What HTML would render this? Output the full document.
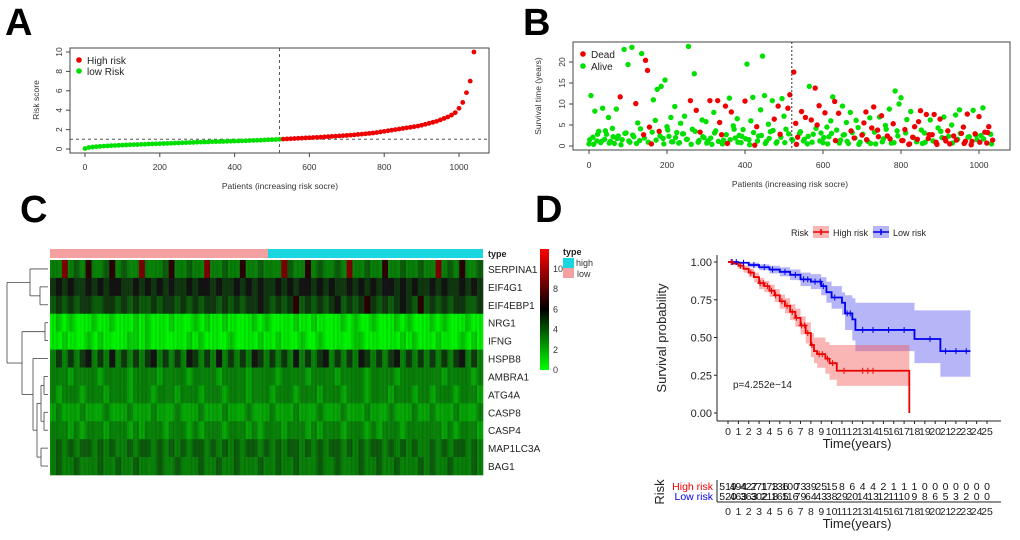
<!DOCTYPE html>
<html><head><meta charset="utf-8">
<style>
html,body{margin:0;padding:0;background:#fff;}
svg{display:block;font-family:"Liberation Sans",Arial,sans-serif;}
</style></head>
<body>
<svg id="fig" width="1020" height="540" viewBox="0 0 1020 540" xmlns="http://www.w3.org/2000/svg">
<rect x="0" y="0" width="1020" height="540" fill="#fff"/>
<text x="5" y="35" font-size="38" font-weight="bold">A</text>
<text x="523" y="35" font-size="38" font-weight="bold">B</text>
<text x="20" y="222" font-size="38" font-weight="bold">C</text>
<text x="535" y="222" font-size="38" font-weight="bold">D</text>
<g id="pa"></g><g id="pb"></g><g id="pc"></g><g id="pd"></g>
</svg>
<script>
// ---------- Panel A data ----------
const riskScores = [0.05,0.15,0.2,0.24,0.27,0.3,0.32,0.34,0.36,0.38,0.4,
0.42,0.43,0.45,0.46,0.48,0.49,0.51,0.52,0.54,0.55,
0.56,0.58,0.59,0.61,0.62,0.64,0.65,0.67,0.68,0.7,
0.71,0.72,0.73,0.75,0.76,0.77,0.78,0.79,0.8,0.82,
0.83,0.84,0.85,0.87,0.88,0.9,0.91,0.93,0.95,0.96,0.98,1.0,
1.02,1.04,1.06,1.08,1.1,1.12,1.14,1.16,
1.18,1.2,1.22,1.25,1.27,1.3,1.32,1.35,1.37,1.4,
1.43,1.46,1.5,1.53,1.57,1.61,1.65,1.7,1.76,1.82,
1.88,1.94,2.0,2.06,2.12,2.18,2.24,2.3,2.36,2.45,
2.55,2.65,2.75,2.85,3.0,3.15,3.3,3.5,3.75,4.2,
4.8,5.8,7.0,10];
const riskStep = 10;
const riskCutoffIndex = 520;
const riskCutoffScore = 1.0;
const aXTicks = [0,200,400,600,800,1000];
const aYTicks = [0,2,4,6,8,10];

// ---------- Panel B data ----------
const survTimes = [0.5,12,2.1,8.3,1.2,3.5,0.8,9,1.6,2.8,
6.8,1.1,4.2,0.6,8.8,2.4,11.7,1.5,23,3.1,
19.4,0.9,23.5,2.2,10.1,5.5,1.3,22,2.7,20.4,
18,4.5,0.5,11,6.1,13.5,3.5,14.2,1.8,15.7,
4.6,2.3,6.8,1.0,9.4,3.2,0.7,5.4,2.9,7.1,
1.6,23.7,10.8,4.0,17.2,8.5,0.9,3.3,6.2,2.0,
5.8,1.2,10.8,0.4,8.0,3.6,10.8,5.6,2.7,1.4,
9.5,0.6,11.4,8.1,4.8,1.9,6.5,2.5,0.8,3.9,
10.7,19.5,1.5,6.0,11.6,0.2,4.6,2.4,8.6,21.4,
12.0,1.1,5.2,3.4,10.8,6.4,0.7,9.5,2.8,11.3,
7.1,4.0,9.0,12.2,1.6,17.6,5.4,2.1,3.0,8.2,
1.2,6.8,0.5,14.2,6.2,2.8,13.8,5.0,9.6,3.1,
0.8,7.9,4.5,2.2,6.0,11.7,10.6,3.8,7.8,1.4,
9.5,2.7,5.6,0.6,8.0,3.2,1.9,6.1,4.4,0.9,
2.6,5.5,8.1,1.1,6.7,4.3,9.3,0.5,3.8,6.9,
7.2,1.7,4.9,2.4,8.8,0.7,5.3,13.1,3.6,10.0,
11.5,1.3,3.9,6.3,0.4,8.2,2.1,4.6,1.0,5.8,
8.4,0.6,3.1,7.5,1.8,6.2,2.7,7.5,0.9,4.3,
6.4,2.0,6.9,1.2,3.6,0.5,5.0,2.4,7.4,1.6,
8.6,3.0,4.5,1.1,7.6,2.2,0.3,8.5,2.9,1.5,
7.0,2.5,9.1,3.3,0.7,4.6,2.8,1.4];
const survStatus = "0000000000"+"0000001000"+"0000100011"+"1110001000"+"0000000000"+"0010010100"+"0010001110"+"1101000000"+"1000011000"+"0000010110"+"0011011101"+"0100101110"+"0100001010"+"0000001000"+"1110011010"+"1001001000"+"0110101101"+"1001101110"+"1001110100"+"0111101010"+"10011101";
const survStep = 5;
const lowTimes = [1.5,0.4,2.8,1.1,3.6,0.7,2.2,1.8,0.3,3.0,
1.2,2.6,0.6,4.1,1.9,0.9,3.3,1.4,2.4,0.5,
3.8,1.0,2.0,0.8,2.9,1.6,0.4,3.5,1.3,2.2,
0.7,1.9,3.1,1.1,0.5,2.7,1.5,4.0,0.9,2.3,
1.7,0.3,3.2,1.2,2.5,0.6,1.8,3.7,1.0,2.1,
0.8,2.9,1.4,0.4,3.4,1.6,2.3,0.9,4.2,1.2,
2.0,0.5,3.0,1.3,0.7,2.6,1.1,3.6,1.9,0.4,
2.8,1.5,0.6,3.3,2.2,1.0,4.0,1.7,0.8,2.4,
1.3,3.1,0.5,2.0,1.6,3.8,0.9,2.7,1.2,0.4,
3.5,1.8,2.3,0.7,1.4,3.0,0.6,2.1,1.1,2.6,
0.9,1.7,3.2,0.5];
const lowStatus = "0000000000"+"0000000000"+"0000000000"+"0000000000"+"0000000000"+"0001000000"+"0001000100"+"0100100100"+"1010100101"+"0100101010"+"1010";
const lowStep = 10, lowOffset = 2;
const bXTicks = [0,200,400,600,800,1000];
const bYTicks = [0,5,10,15,20];

// ---------- Panel C data ----------
const genes = ["SERPINA1","EIF4G1","EIF4EBP1","NRG1","IFNG","HSPB8","AMBRA1","ATG4A","CASP8","CASP4","MAP1LC3A","BAG1"];
const exprRows = [
"3393437334734339333473343393343373343339433734334393343373343343393437334",
"5656556565665565656565565665655656565565656656565565656566565655656556565",
"4545455445545454454554545455454545565454574545456454575454565474545455445",
"0101000100100010100010001010010000101000010010000101001000101000101000100",
"0010001010000110100000010100001000010010001001000001100000010100010001010",
"3535356353635353563535365353635353653535363535635353653535635353535356353",
"3332333323333233332333323333233332333323333233332333323333233333332333323",
"3233323332333233323332333233323332333233323332333233323332333233233323332",
"2322232223222322232223222322232223222322232223222322232223222322322232223",
"3332323332333232333233323233323332323332333232333233323233323333332323332",
"3434344343433434434343434434343434434343443434344343434434343433434344343",
"3433433343343343334334333433433433343343343334334333433433433343433433343"];
const colorbarTicks = [0,2,4,6,8,10];

// ---------- Panel D data ----------
const highT = [0,0.5,1,1.5,2,2.5,3,3.5,4,4.5,5,5.5,6,6.5,7,7.5,8,8.3,8.6,9.4,9.8,10.5,17.5];
const highS = [1,0.99,0.975,0.955,0.93,0.9,0.86,0.84,0.81,0.78,0.74,0.71,0.67,0.63,0.58,0.53,0.45,0.41,0.39,0.36,0.33,0.28,0];
const highUp = [1,1,0.99,0.975,0.955,0.93,0.895,0.875,0.85,0.82,0.785,0.76,0.72,0.69,0.64,0.6,0.53,0.5,0.5,0.47,0.45,0.45,0.45];
const highLo = [1,0.98,0.955,0.93,0.9,0.865,0.82,0.8,0.77,0.735,0.69,0.66,0.615,0.57,0.52,0.46,0.37,0.33,0.3,0.26,0.22,0.18,0.18];
const highEnd = 17.5;
const lowT = [0,1,2,3,4,5,6,7,8,9,9.5,10,11,11.3,12,12.3,18,20.5];
const lowS = [1,0.995,0.98,0.965,0.95,0.935,0.915,0.885,0.87,0.84,0.8,0.765,0.73,0.66,0.62,0.55,0.49,0.41];
const lowUp = [1,1,0.995,0.985,0.975,0.965,0.95,0.93,0.92,0.9,0.87,0.84,0.8,0.78,0.76,0.73,0.68,0.68];
const lowLo = [1,0.99,0.965,0.945,0.925,0.905,0.88,0.84,0.82,0.78,0.73,0.69,0.65,0.55,0.48,0.41,0.33,0.24];
const lowEnd = 23.4;
const highCensor = [0.3,1.2,2.2,3.1,3.4,3.8,4.2,4.6,5.2,5.7,6.2,6.6,7.1,7.4,7.7,8.1,8.8,9.1,9.6,10.1,11.2,13.0,13.5,14.0];
const lowCensor = [0.4,0.8,1.5,2.5,3.5,4.3,5.5,6.5,7.3,7.7,8.4,8.9,9.2,10.3,11.5,11.8,13.0,14.0,15.5,17.0,19.5,21.0,22.0,23.0];
const kmXTicks = [0,1,2,3,4,5,6,7,8,9,10,11,12,13,14,15,16,17,18,19,20,21,22,23,24,25];
const kmYTicks = [0,0.25,0.5,0.75,1.0];
const atRiskHigh = [519,494,427,271,173,136,100,73,39,25,15,8,6,4,4,2,1,1,1,0,0,0,0,0,0,0];
const atRiskLow  = [520,463,363,302,218,165,116,79,64,43,38,29,20,14,13,12,11,10,9,8,6,5,3,2,0,0];

const NS = "http://www.w3.org/2000/svg";
function mk(tag, attrs, parent){const e=document.createElementNS(NS,tag);for(const k in attrs)e.setAttribute(k,attrs[k]);parent.appendChild(e);return e;}
function txt(s, attrs, parent){const e=mk("text",attrs,parent);e.textContent=s;return e;}

// ===== Panel A =====
(function(){
const g=document.getElementById("pa");
const x0=85,x1=459,y0=149,y1=52;
const sx=v=>x0+(x1-x0)*v/1000, sy=v=>y0+(y1-y0)*v/10;
let r=mk("rect",{x:70,y:48,width:419,height:105,fill:"none",stroke:"#444","stroke-width":1},g);


aXTicks.forEach(t=>{
 const l=mk("line",{x1:sx(t),x2:sx(t),y1:153,y2:157,stroke:"#444"},g);
 
 
 const s=txt(String(t),{x:sx(t),y:170,"font-size":8.5,"text-anchor":"middle",fill:"#333"},g);
 
 
});
aYTicks.forEach(t=>{
 const l=mk("line",{x1:66,x2:70,y1:sy(t),y2:sy(t),stroke:"#444"},g);
 
 
 const s=txt(String(t),{x:62,y:sy(t),"font-size":8.5,"text-anchor":"middle",fill:"#333",transform:`rotate(-90 62 ${sy(t)})`},g);
 
 
});
let d=mk("line",{x1:sx(riskCutoffIndex),x2:sx(riskCutoffIndex),y1:48,y2:153,stroke:"#555","stroke-dasharray":"3,3"},g);


d=mk("line",{x1:70,x2:489,y1:sy(riskCutoffScore),y2:sy(riskCutoffScore),stroke:"#555","stroke-dasharray":"3,3"},g);


riskScores.forEach((v,i)=>{
 const idx=i*riskStep; const p=mk("circle",{cx:sx(idx),cy:sy(v),r:2.4,fill:idx<=riskCutoffIndex?"#00e000":"#ee0000"},g);
 
 
});
let c=mk("circle",{cx:79,cy:60,r:2.8,fill:"#ee0000"},g);


let t=txt("High risk",{x:87,y:64,"font-size":10,fill:"#222"},g);


c=mk("circle",{cx:79,cy:71,r:2.8,fill:"#00e000"},g);


t=txt("low Risk",{x:87,y:75,"font-size":10,fill:"#222"},g);


t=txt("Risk score",{x:39,y:100,"font-size":8.5,"text-anchor":"middle",fill:"#333",transform:"rotate(-90 39 100)"},g);


t=txt("Patients (increasing risk socre)",{x:280,y:189,"font-size":8.5,"text-anchor":"middle",fill:"#333"},g);


})();

// ===== Panel B =====
(function(){
const g=document.getElementById("pb");
const sx=v=>589+(979-589)*v/1000, sy=v=>146-(146-62)*v/20;
let r=mk("rect",{x:573,y:42,width:437,height:108,fill:"none",stroke:"#444"},g);


bXTicks.forEach(t=>{
 const l=mk("line",{x1:sx(t),x2:sx(t),y1:150,y2:154,stroke:"#444"},g);
 
 
 const s=txt(String(t),{x:sx(t),y:168,"font-size":8.5,"text-anchor":"middle",fill:"#333"},g);
 
 
});
bYTicks.forEach(t=>{
 const l=mk("line",{x1:569,x2:573,y1:sy(t),y2:sy(t),stroke:"#444"},g);
 
 
 const s=txt(String(t),{x:565,y:sy(t),"font-size":8.5,"text-anchor":"middle",fill:"#333",transform:`rotate(-90 565 ${sy(t)})`},g);
 
 
});
const pts=[];
survTimes.forEach((v,i)=>pts.push([i*survStep,v,survStatus[i]==="1"]));
lowTimes.forEach((v,i)=>pts.push([i*lowStep+lowOffset,v,lowStatus[i]==="1"]));
[false,true].forEach(dead=>{
 pts.filter(p=>p[2]===dead).forEach(p=>{
  const c=mk("circle",{cx:sx(p[0]),cy:sy(p[1]),r:2.7,fill:dead?"#ee0000":"#00e000"},g);
  
  
 });
});
let d=mk("line",{x1:sx(520),x2:sx(520),y1:42,y2:150,stroke:"#333","stroke-dasharray":"2,2"},g);


let c=mk("circle",{cx:583,cy:54,r:2.8,fill:"#ee0000"},g);


let t=txt("Dead",{x:591,y:58,"font-size":10,fill:"#222"},g);


c=mk("circle",{cx:583,cy:66,r:2.8,fill:"#00e000"},g);


t=txt("Alive",{x:591,y:70,"font-size":10,fill:"#222"},g);


t=txt("Survival time (years)",{x:541,y:96,"font-size":8.5,"text-anchor":"middle",fill:"#333",transform:"rotate(-90 541 96)"},g);


t=txt("Patients (increasing risk socre)",{x:790,y:187,"font-size":8.5,"text-anchor":"middle",fill:"#333"},g);


})();

// ===== Panel C =====
function hcol(v,shade){
 if(v<=6){const k=Math.round(245*(1-v/6)*shade);const o=Math.round(18*(v/6));return `rgb(${o},${k+o},${o})`;}
 const k=Math.round(235*Math.min(1,(v-6)/5.5)*shade);return `rgb(${k},0,0)`;
}
(function(){
const g=document.getElementById("pc");
const hx=50,hw=433,top=260,rh=(475-260)/12;
let b=mk("rect",{x:hx,y:249,width:218,height:9,fill:"#f5a0a0"},g);


b=mk("rect",{x:268,y:249,width:hx+hw-268,height:9,fill:"#1ad6df"},g);


let t=txt("type",{x:488,y:257,"font-size":9,"font-weight":"bold",fill:"#222"},g);


const shades=[1,0.88,0.95];
exprRows.forEach((row,ri)=>{
 const n=row.length, cw=hw/n;
 for(let j=0;j<n;j++){
  const v=parseInt(row[j],16);
  for(let s=0;s<3;s++){
   const c=mk("rect",{x:hx+j*cw+s*cw/3,y:top+ri*rh,width:cw/3+0.3,height:rh+0.3,fill:hcol(v,shades[(s+j)%3])},g);
   
   
  }
 }
 const l=txt(genes[ri],{x:488,y:top+ri*rh+rh/2+4,"font-size":10,fill:"#222"},g);
 
 
});
// dendrogram
const cy=i=>top+i*rh+rh/2;
const L=(x1,y1,x2,y2)=>{const e=mk("line",{x1,y1,x2,y2,stroke:"#444","stroke-width":0.8},g);};
function join(xa,ya,xb,yb,xj){L(xa,ya,xj,ya);L(xb,yb,xj,yb);L(xj,ya,xj,yb);return [xj,(ya+yb)/2];}
const R=48;
let e12=join(R,cy(1),R,cy(2),40);
let s3=join(R,cy(0),e12[0],e12[1],30);
let ni=join(R,cy(3),R,cy(4),45);
let aa=join(R,cy(6),R,cy(7),44);
let cc=join(R,cy(8),R,cy(9),44);
let ac=join(aa[0],aa[1],cc[0],cc[1],41);
let mb=join(R,cy(10),R,cy(11),41);
let am=join(ac[0],ac[1],mb[0],mb[1],37);
let hs=join(R,cy(5),am[0],am[1],33);
let low=join(ni[0],ni[1],hs[0],hs[1],22);
join(s3[0],s3[1],low[0],low[1],7);
// colorbar
const defs=mk("defs",{},g);
const lg=mk("linearGradient",{id:"cb",x1:0,y1:1,x2:0,y2:0},defs);
mk("stop",{offset:"0","stop-color":"#00ff00"},lg);
mk("stop",{offset:"0.5","stop-color":"#000"},lg);
mk("stop",{offset:"1","stop-color":"#ff0000"},lg);
const cb=mk("rect",{x:540,y:249,width:9,height:121,fill:"url(#cb)"},g);


colorbarTicks.forEach(v=>{
 const s=txt(String(v),{x:553,y:370-10.1*v+3,"font-size":9,fill:"#333"},g);
 
 
});
t=txt("type",{x:563,y:255,"font-size":9,"font-weight":"bold",fill:"#222"},g);


b=mk("rect",{x:563,y:258,width:11,height:10,fill:"#1ad6df"},g);


t=txt("high",{x:576,y:266,"font-size":9,fill:"#333"},g);


b=mk("rect",{x:563,y:268,width:11,height:10,fill:"#f5a0a0"},g);


t=txt("low",{x:577,y:277,"font-size":9,fill:"#333"},g);


})();

// ===== Panel D =====
(function(){
const g=document.getElementById("pd");
const sx=v=>728+10.36*v, sy=v=>413-151*v;
function stepPath(T,S,end){let d=`M${sx(T[0])},${sy(S[0])}`;for(let i=1;i<T.length;i++){d+=`H${sx(T[i])}V${sy(S[i])}`;}d+=`H${sx(end)}`;return d;}
function band(T,U,Lo,end){let d=`M${sx(T[0])},${sy(U[0])}`;for(let i=1;i<T.length;i++)d+=`H${sx(T[i])}V${sy(U[i])}`;d+=`H${sx(end)}V${sy(Lo[Lo.length-1])}`;for(let i=T.length-1;i>=1;i--)d+=`H${sx(T[i])}V${sy(Lo[i-1])}`;d+=`H${sx(T[0])}Z`;return d;}
let p=mk("path",{d:band(lowT,lowUp,lowLo,lowEnd),fill:"rgba(90,90,240,0.45)"},g);


p=mk("path",{d:band(highT.slice(0,-1),highUp.slice(0,-1),highLo.slice(0,-1),highEnd),fill:"rgba(245,90,90,0.45)"},g);


p=mk("path",{d:stepPath(lowT,lowS,lowEnd),fill:"none",stroke:"#0000ee","stroke-width":1.8},g);


p=mk("path",{d:stepPath(highT,highS,highEnd),fill:"none",stroke:"#ee0000","stroke-width":1.8},g);


function sAt(T,S,t){let s=S[0];for(let i=0;i<T.length;i++)if(T[i]<=t)s=S[i];return s;}
function cens(list,T,S,col){list.forEach(t=>{const x=sx(t),y=sy(sAt(T,S,t));const e=mk("path",{d:`M${x-3},${y}H${x+3}M${x},${y-3}V${y+3}`,stroke:col,"stroke-width":1},g);});}
cens(lowCensor,lowT,lowS,"#0000ee");
cens(highCensor,highT,highS,"#ee0000");
let a=mk("line",{x1:717,x2:717,y1:255,y2:421,stroke:"#222"},g);


a=mk("line",{x1:717,x2:1001,y1:421,y2:421,stroke:"#222"},g);


kmYTicks.forEach(v=>{
 const l=mk("line",{x1:714,x2:717,y1:sy(v),y2:sy(v),stroke:"#222"},g);
 
 
 const s=txt(v.toFixed(2),{x:712,y:sy(v)+4,"font-size":11,"text-anchor":"end",fill:"#222"},g);
 
 
});
kmXTicks.forEach(v=>{
 const l=mk("line",{x1:sx(v),x2:sx(v),y1:421,y2:424,stroke:"#222"},g);
 
 
 const s=txt(String(v),{x:sx(v),y:435,"font-size":10.5,"text-anchor":"middle",fill:"#222"},g);
 
 
});
let t=txt("Time(years)",{x:857,y:448,"font-size":13,"text-anchor":"middle",fill:"#222"},g);


t=txt("Survival probability",{x:666,y:338,"font-size":13,"text-anchor":"middle",fill:"#222",transform:"rotate(-90 666 338)"},g);


t=txt("p=4.252e\u221214",{x:733,y:388,"font-size":10,fill:"#222"},g);


t=txt("Risk",{x:791,y:236,"font-size":9,fill:"#222"},g);


let k=mk("rect",{x:813,y:226,width:16,height:12,fill:"rgba(245,90,90,0.45)"},g);


mk("path",{d:"M813,232H829M821,229V235",stroke:"#ee0000","stroke-width":1.5},g);
t=txt("High risk",{x:833,y:236,"font-size":9,fill:"#222"},g);


k=mk("rect",{x:873,y:226,width:16,height:12,fill:"rgba(90,90,240,0.45)"},g);


mk("path",{d:"M873,232H889M881,229V235",stroke:"#0000ee","stroke-width":1.5},g);
t=txt("Low risk",{x:893,y:236,"font-size":9,fill:"#222"},g);


a=mk("line",{x1:717,x2:717,y1:480,y2:502,stroke:"#222"},g);


a=mk("line",{x1:717,x2:1001,y1:502,y2:502,stroke:"#222"},g);


t=txt("High risk",{x:713,y:490,"font-size":10.5,"text-anchor":"end",fill:"#ee0000"},g);


t=txt("Low risk",{x:713,y:500,"font-size":10.5,"text-anchor":"end",fill:"#0000ee"},g);


t=txt("Risk",{x:664,y:492,"font-size":13,"text-anchor":"middle",fill:"#222",transform:"rotate(-90 664 492)"},g);


kmXTicks.forEach((v,i)=>{
 let s=txt(String(atRiskHigh[i]),{x:sx(v),y:490,"font-size":10.5,"text-anchor":"middle",fill:"#111"},g);
 
 
 s=txt(String(atRiskLow[i]),{x:sx(v),y:500,"font-size":10.5,"text-anchor":"middle",fill:"#111"},g);
 
 
 s=txt(String(v),{x:sx(v),y:515,"font-size":10.5,"text-anchor":"middle",fill:"#222"},g);
 
 
});
t=txt("Time(years)",{x:857,y:528,"font-size":13,"text-anchor":"middle",fill:"#222"},g);


})();
</script>
</body></html>
